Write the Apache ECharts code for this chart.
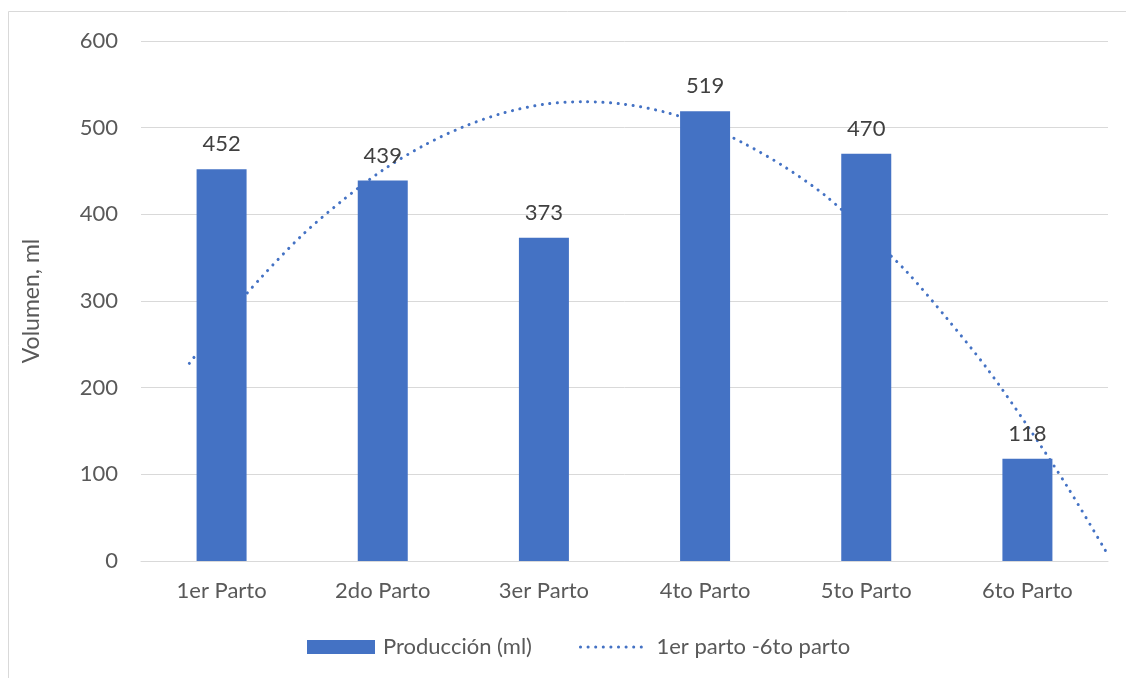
<!DOCTYPE html>
<html>
<head>
<meta charset="utf-8">
<script src="https://cdn.jsdelivr.net/npm/echarts@6/dist/echarts.min.js"></script>
<style>
  html, body { margin: 0; padding: 0; background: #ffffff; }
  #chart { width: 1126px; height: 678px; }
</style>
</head>
<body>
<div id="chart"></div>
<script>
// Milk volume per calving
const categories = ['1er Parto', '2do Parto', '3er Parto', '4to Parto', '5to Parto', '6to Parto'];
const produccion = [452, 439, 373, 519, 470, 118];

// Polynomial trend curve, [position along the calvings, volume]
const trendX = [0.8, 1.0, 1.25, 1.5, 1.75, 2.0, 2.25, 2.5, 2.75, 3.0, 3.25, 3.5, 3.75,
                4.0, 4.25, 4.5, 4.75, 5.0, 5.25, 5.5, 5.75, 6.0, 6.25, 6.5];
const trendY = [228, 275, 328, 376, 416, 451, 479, 501, 517, 527, 530, 527, 518,
                503, 481, 454, 421, 379, 334, 280, 222, 156, 85, 7];

const yTicks = { min: 0, max: 600, interval: 100 };

const FONT = 'Lato';
const BLUE = '#4472C4';
const FS = 22;

const chart = echarts.init(document.getElementById('chart'), null, { renderer: 'canvas' });

chart.setOption({
  backgroundColor: '#ffffff',
  animation: false,
  textStyle: { fontFamily: FONT },
  graphic: [{
    type: 'rect',
    shape: { x: 8.5, y: 11.5, width: 1200, height: 800 },
    style: { fill: 'none', stroke: '#d9d9d9', lineWidth: 1 },
    silent: true,
    z: -10
  }],
  grid: { left: 141, right: 18, top: 41, bottom: 117, containLabel: false },
  legend: {
    bottom: 20,
    left: 307,
    padding: 0,
    itemGap: 47,
    itemWidth: 68,
    itemHeight: 14,
    textStyle: { color: '#595959', fontSize: FS, fontFamily: FONT, padding: [0, 0, 0, 3] },
    data: [
      { name: 'Producción (ml)', icon: 'rect' },
      {
        name: '1er parto -6to parto',
        itemStyle: { color: 'rgba(0,0,0,0)', opacity: 0, borderWidth: 0 },
        lineStyle: { width: 3 }
      }
    ]
  },
  xAxis: [{
    type: 'category',
    data: categories,
    axisLine: { show: true, lineStyle: { color: '#d9d9d9', width: 1 } },
    axisTick: { show: false },
    axisLabel: { color: '#595959', fontSize: FS, margin: 19, fontFamily: FONT },
    splitLine: { show: false }
  }, {
    type: 'value',
    min: 0.5,
    max: 6.5,
    show: false
  }],
  yAxis: {
    type: 'value',
    min: yTicks.min,
    max: yTicks.max,
    interval: yTicks.interval,
    name: 'Volumen, ml',
    nameLocation: 'middle',
    nameGap: 98,
    nameRotate: 90,
    nameTextStyle: { color: '#595959', fontSize: 23, fontFamily: FONT },
    axisLine: { show: false },
    axisTick: { show: false },
    axisLabel: { color: '#595959', fontSize: FS, margin: 23, fontFamily: FONT },
    splitLine: { lineStyle: { color: '#d9d9d9', width: 1 } }
  },
  series: [{
    name: '1er parto -6to parto',
    type: 'line',
    xAxisIndex: 1,
    data: trendX.map((x, i) => [x, trendY[i]]),
    smooth: 0.3,
    symbol: 'none',
    z: 1,
    lineStyle: { color: BLUE, width: 3, type: [0.1, 7.5], cap: 'round' },
    itemStyle: { color: BLUE }
  }, {
    name: 'Producción (ml)',
    type: 'bar',
    data: produccion,
    barWidth: 50,
    z: 3,
    itemStyle: { color: BLUE },
    label: {
      show: true,
      position: 'top',
      distance: 14,
      color: '#404040',
      fontSize: FS,
      fontFamily: FONT
    }
  }]
});
</script>
</body>
</html>
